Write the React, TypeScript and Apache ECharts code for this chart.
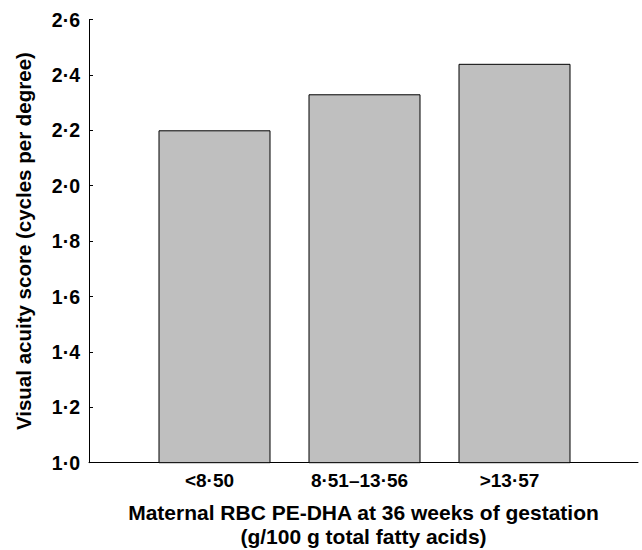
import React, { useEffect, useRef } from "react";
import * as echarts from "echarts";

const categories = ["<8\u00b750", "8\u00b751\u201313\u00b756", ">13\u00b757"];
const positions = [1, 2, 3];
const values = [2.2, 2.33, 2.44];
const yTicks = { min: 1.0, max: 2.6, interval: 0.2 };
const xName = "Maternal RBC PE-DHA at 36 weeks of gestation\n(g/100 g total fatty acids)";
const yName = "Visual acuity score (cycles per degree)";

const FONT = "'Liberation Sans', Arial, Helvetica, sans-serif";

export default function App() {
  const ref = useRef<HTMLDivElement>(null);
  useEffect(() => {
    document.body.style.margin = "0";
    const chart = echarts.init(ref.current!, null, { renderer: "svg" });
    chart.setOption({
      animation: false,
      textStyle: { fontFamily: FONT },
      grid: { left: 89, right: 4, top: 19.5, bottom: 87.3, containLabel: false, outerBoundsMode: "none" },
      xAxis: {
        type: "value",
        min: 0.1633,
        max: 3.8233,
        axisLine: { show: true, lineStyle: { color: "#000", width: 1 } },
        axisTick: { show: false },
        splitLine: { show: false },
        axisLabel: {
          customValues: positions,
          formatter: (v: number) => categories[Math.round(v) - 1] ?? "",
          color: "#000",
          fontWeight: "bold",
          fontSize: 19,
          fontFamily: FONT,
          margin: 8,
          padding: [0, 10, 0, 0],
        },
        name: xName,
        nameLocation: "middle",
        nameGap: 38,
        nameTextStyle: { color: "#000", fontWeight: "bold", fontSize: 21, lineHeight: 24, fontFamily: FONT },
      },
      yAxis: {
        type: "value",
        min: yTicks.min,
        max: yTicks.max,
        interval: yTicks.interval,
        axisLine: { show: true, lineStyle: { color: "#000", width: 1 } },
        axisTick: { show: true, inside: true, length: 4, lineStyle: { color: "#000" } },
        splitLine: { show: false },
        axisLabel: {
          formatter: (v: number) => v.toFixed(1).replace(".", "\u00b7"),
          color: "#000",
          fontWeight: "bold",
          fontSize: 19.5,
          fontFamily: FONT,
          margin: 9,
        },
        name: yName,
        nameLocation: "middle",
        nameGap: 55,
        nameTextStyle: { color: "#000", fontWeight: "bold", fontSize: 20.5, fontFamily: FONT },
      },
      series: [
        {
          type: "bar",
          data: positions.map((p, i) => [p, values[i]]),
          barWidth: 112,
          itemStyle: { color: "#bfbfbf", borderColor: "#000", borderWidth: 1 },
        },
      ],
    });
    return () => chart.dispose();
  }, []);
  return <div ref={ref} style={{ width: 642, height: 550 }} />;
}
